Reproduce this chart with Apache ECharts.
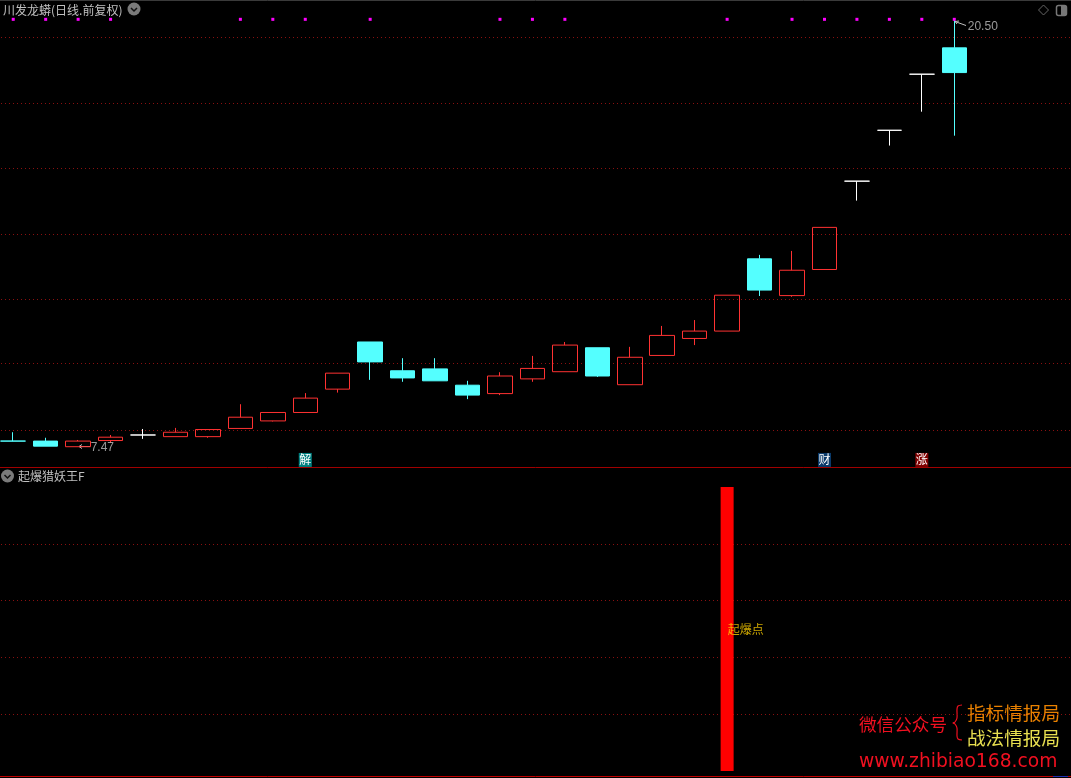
<!DOCTYPE html>
<html><head><meta charset="utf-8"><style>html,body{margin:0;background:#000}#c{width:1071px;height:778px}</style>
<script src="https://cdn.jsdelivr.net/npm/echarts@6/dist/echarts.min.js"></script></head>
<body><div id="c"></div>
<script>
var categories = ['1','2','3','4','5','6','7','8','9','10','11','12','13','14','15','16','17','18','19','20','21','22','23','24','25','26','27','28','29','30','','','',' '];
var opens  = [7.57,7.57,7.47,7.58,7.68,7.65,7.65,7.80,7.94,8.10,8.56,9.57,8.94,8.98,8.64,8.47,8.77,8.92,9.44,8.65,9.27,9.65,9.82,11.65,10.68,11.36,14.00,15.79,18.03,19.19];
var closes = [7.57,7.48,7.57,7.64,7.68,7.73,7.78,8.01,8.10,8.38,8.89,9.13,8.79,8.73,8.44,8.83,8.99,9.50,8.83,9.23,9.72,9.82,10.69,10.82,11.34,12.55,14.00,15.79,18.03,18.10];
var lows   = [7.57,7.48,7.47,7.54,7.61,7.65,7.63,7.80,7.93,8.10,8.49,8.75,8.71,8.73,8.36,8.44,8.71,8.92,8.81,8.65,9.27,9.50,9.82,10.67,10.65,11.36,13.37,15.23,16.50,15.59];
var highs  = [7.73,7.63,7.59,7.68,7.79,7.81,7.78,8.26,8.10,8.48,8.89,9.57,9.21,9.21,8.73,8.91,9.26,9.57,9.44,9.46,9.94,10.08,10.69,11.76,11.87,12.55,14.00,15.79,18.03,20.50];
var signalIdx = [0,1,2,3,7,8,9,11,15,16,17,22,24,25,26,27,28,29];
var signalPrice = 20.53;
var priceGrid = [19.69,16.85,14.44,12.36,10.59,9.09,7.77];
var priceMin = 7.12, priceMax = 21.49;
var tags = [{i:9,t:'解'},{i:25,t:'财'},{i:28,t:'涨'}];
var tagPrice = 7.24;
var indicator = [0,0,0,0,0,0,0,0,0,0,0,0,0,0,0,0,0,0,0,0,0,0,1,0,0,0,0,0,0,0];
var cyanFlat = [0];
var lowLabel = {i:2,v:7.47,t:'7.47'}, highLabel = {i:29,v:20.50,t:'20.50'};

var RED='#ff3232', CYAN='#54ffff', WHITE='#ffffff', DOT='#8a1010';
var tagColors=['#008080','#0a3a6a','#800000'];
var CJK='"Noto Sans CJK SC"', LAT='"Liberation Sans"';

var candleData = opens.map(function(o,i){
  var c=closes[i], st;
  if(c>o) st={color:'transparent',color0:'transparent',borderColor:RED,borderColor0:RED,borderColorDoji:RED};
  else if(c<o) st={color:CYAN,color0:CYAN,borderColor:CYAN,borderColor0:CYAN,borderColorDoji:CYAN};
  else { var k=cyanFlat.indexOf(i)>=0?CYAN:WHITE; st={color:k,color0:k,borderColor:k,borderColor0:k,borderColorDoji:k}; }
  return {value:[o,c,lows[i],highs[i]],itemStyle:st};
});
function txt(x,y,s,fill,size,font,extra){
  var st={x:x,y:y,text:s,fill:fill,fontSize:size,fontFamily:font,textVerticalAlign:'middle',verticalAlign:'middle'};
  if(extra) for(var k in extra) st[k]=extra[k];
  return {type:'text',silent:true,style:st};
}
function line(x1,y1,x2,y2,col){return {type:'line',silent:true,shape:{x1:x1,y1:y1,x2:x2,y2:y2},style:{stroke:col,lineWidth:1}};}
function chevron(cx,cy){return [
  {type:'circle',silent:true,shape:{cx:cx,cy:cy,r:6.5},style:{fill:'#7a7a7a'}},
  {type:'polyline',silent:true,shape:{points:[[cx-3,cy-1],[cx,cy+2],[cx+3,cy-1]]},style:{stroke:'#111',fill:'none',lineWidth:1.5}}
];}
var deco=[].concat(
  [line(0,0.5,1071,0.5,'#3a3a3a'),line(0,467.5,1071,467.5,'#a00000'),line(0,776.5,1071,776.5,'#c00000'),line(1053,776.5,1068,776.5,'#2030b0')],
  chevron(134,9),chevron(7.5,476),
  [txt(3,10,'川发龙蟒(日线.前复权)','#c0c0c0',12,CJK),
   txt(18,476.5,'起爆猎妖王F','#c0c0c0',12,CJK),
   {type:'polygon',silent:true,shape:{points:[[1043.5,5],[1048.5,10],[1043.5,15],[1038.5,10]]},style:{stroke:'#666',fill:'none',lineWidth:1}},
   {type:'rect',silent:true,shape:{x:1056.5,y:5.5,width:10,height:10,r:2},style:{stroke:'#777',fill:'none',lineWidth:1.5}},
   {type:'rect',silent:true,shape:{x:1061,y:6,width:5,height:9},style:{fill:'#777'}},
   line(79,446.5,90,446.5,'#c0c0c0'),line(79,446.5,82,444.5,'#c0c0c0'),line(79,446.5,82,448.5,'#c0c0c0'),
   line(955,21.5,966,25.5,'#c0c0c0'),line(955,21.5,959,21,'#c0c0c0'),line(955,21.5,957,24,'#c0c0c0'),
   txt(859,724,'微信公众号','#f01020',17.6,CJK),
   txt(967,713,'指标情报局','#e88000',18.6,CJK),
   txt(967,738,'战法情报局','#e8e050',18.6,CJK),
   {type:'polyline',silent:true,shape:{points:[[962,705],[958,706],[957,709],[957,718],[955,722],[953,723],[955,724],[957,728],[957,736],[958,739],[962,740]],smooth:0.3},style:{stroke:'#f01020',fill:'none',lineWidth:1.2}},
   txt(859,762,'www.zhibiao168.com','#f01020',18.7,'"DejaVu Sans"')]
);

var gridLeft=-3, gridW=1103.3;
var option={
  backgroundColor:'#000',animation:false,
  grid:[{left:gridLeft,width:gridW,top:0,height:467,outerBoundsMode:'none'},{left:gridLeft,width:gridW,top:487,height:284,outerBoundsMode:'none'}],
  xAxis:[
    {type:'category',gridIndex:0,data:categories,show:false},
    {type:'category',gridIndex:1,data:categories,show:false}
  ],
  yAxis:[
    {type:'log',gridIndex:0,min:priceMin,max:priceMax,show:false,splitLine:{show:false}},
    {type:'value',gridIndex:1,min:0,max:1,interval:0.2,axisLine:{show:false},axisTick:{show:false},axisLabel:{show:false},
     splitLine:{show:true,showMinLine:false,showMaxLine:false,lineStyle:{color:DOT,type:[1,3],width:1}}}
  ],
  series:[
    {type:'candlestick',name:'川发龙蟒',xAxisIndex:0,yAxisIndex:0,z:3,barWidth:25,data:candleData,
     markLine:{silent:true,z:1,symbol:'none',label:{show:false},lineStyle:{color:DOT,type:[1,3],width:1},
       data:priceGrid.map(function(v){return {yAxis:v};})}},
    {type:'scatter',name:'信号',xAxisIndex:0,yAxisIndex:0,z:4,symbol:'rect',symbolSize:3,itemStyle:{color:'#ff00ff',opacity:1},
     data:signalIdx.map(function(i){return [i,signalPrice];})},
    {type:'scatter',name:'标记',xAxisIndex:0,yAxisIndex:0,z:4,symbol:'rect',symbolSize:[13,14],
     data:tags.map(function(d,k){return {value:[d.i,tagPrice],name:d.t,itemStyle:{color:tagColors[k],opacity:1}};}),
     label:{show:true,position:'inside',formatter:'{b}',color:'#fff',fontSize:12,fontFamily:CJK}},
    {type:'scatter',name:'极值',xAxisIndex:0,yAxisIndex:0,z:4,symbolSize:1,itemStyle:{color:'transparent'},
     data:[
       {value:[lowLabel.i,lowLabel.v],name:lowLabel.t,label:{offset:[12,1]}},
       {value:[highLabel.i,highLabel.v],name:highLabel.t,label:{offset:[13,7]}}],
     label:{show:true,position:'right',distance:0,formatter:'{b}',color:'#c0c0c0',fontSize:12,fontFamily:LAT}},
    {type:'bar',name:'起爆猎妖王F',xAxisIndex:1,yAxisIndex:1,barWidth:13,itemStyle:{color:'#ff0000'},data:indicator,z:2},
    {type:'scatter',name:'起爆点',xAxisIndex:1,yAxisIndex:1,z:5,symbolSize:1,itemStyle:{color:'transparent'},
     data:[{value:[22,0.5],name:'起爆点'}],
     label:{show:true,position:'right',distance:0,formatter:'{b}',color:'#ffd000',fontSize:12,fontFamily:CJK}}
  ],
  graphic:{elements:deco}
};
echarts.init(document.getElementById('c')).setOption(option);
</script></body></html>
